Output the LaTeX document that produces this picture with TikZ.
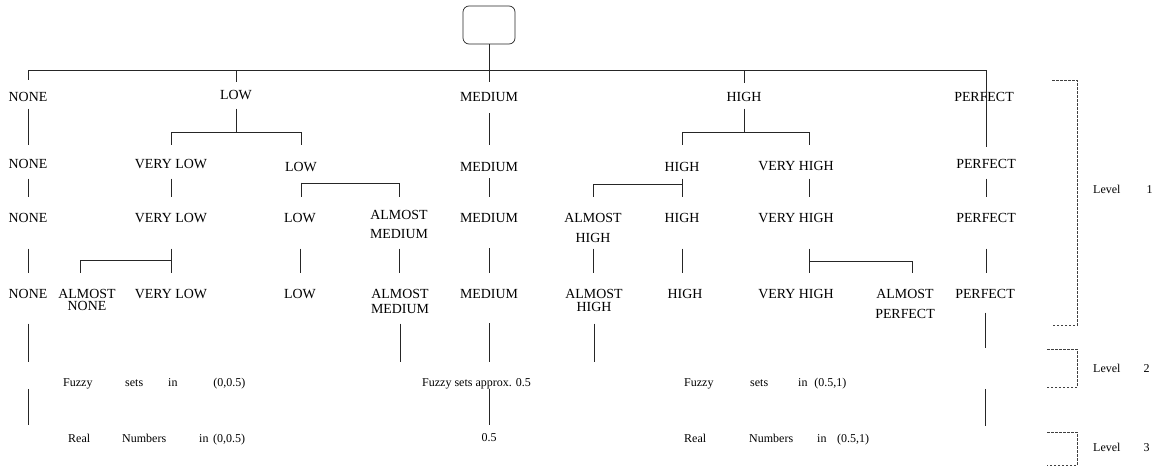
\documentclass[tikz,border=0pt]{standalone}
\usepackage{fontspec}
\setmainfont{Liberation Serif}
\begin{document}
\begin{tikzpicture}[x=1pt,y=-1pt,
  lab/.style={inner sep=0pt, anchor=north, font=\fontsize{13.9}{16}\selectfont},
  labtwo/.style={inner sep=0pt, anchor=north, align=center, font=\fontsize{13.9}{#1}\selectfont},
  small/.style={inner sep=0pt, anchor=base west, font=\fontsize{12}{14}\selectfont},
  conn/.style={draw=black!85, line width=0.7pt},
  lvl/.style={draw=black!75, line width=0.6pt, dash pattern=on 2.5pt off 1.5pt}]
\useasboundingbox (0,0) rectangle (1157,466);

% root
\node[draw=black!85, line width=0.7pt, rounded corners=6pt, minimum width=52pt, minimum height=38pt, inner sep=0pt] (root) at (489,25) {};

% row 1
\node[lab] (none1) at (28,92.4) {NONE};
\node[lab] (low1) at (236,90.4) {LOW};
\node[lab] (med1) at (489,92.4) {MEDIUM};
\node[lab] (high1) at (744,92.4) {HIGH};
\node[lab] (perf1) at (984,92.4) {PERFECT};

% row 2
\node[lab] (none2) at (28,159.4) {NONE};
\node[lab] (vlow2) at (171,159.4) {VERY LOW};
\node[lab] (low2) at (301,162.4) {LOW};
\node[lab] (med2) at (489,162.4) {MEDIUM};
\node[lab] (high2) at (682,162.4) {HIGH};
\node[lab] (vh2) at (796,161.4) {VERY HIGH};
\node[lab] (perf2) at (986,159.4) {PERFECT};

% row 3
\node[lab] (none3) at (28,213.4) {NONE};
\node[lab] (vlow3) at (171,213.4) {VERY LOW};
\node[lab] (low3) at (300,213.4) {LOW};
\node[labtwo=19] (amed3) at (399,210.4) {ALMOST\\MEDIUM};
\node[lab] (med3) at (489,213.4) {MEDIUM};
\node[labtwo=20] (ahigh3) at (593,213.4) {ALMOST\\HIGH};
\node[lab] (high3) at (682,213.4) {HIGH};
\node[lab] (vh3) at (796,213.4) {VERY HIGH};
\node[lab] (perf3) at (986,213.4) {PERFECT};

% row 4
\node[lab] (none4) at (28,289.4) {NONE};
\node[labtwo=12] (anone4) at (87,289.4) {ALMOST\\NONE};
\node[lab] (vlow4) at (171,289.4) {VERY LOW};
\node[lab] (low4) at (300,289.4) {LOW};
\node[labtwo=15] (amed4) at (400,289.4) {ALMOST\\MEDIUM};
\node[lab] (med4) at (489,289.4) {MEDIUM};
\node[labtwo=13] (ahigh4) at (594,289.4) {ALMOST\\HIGH};
\node[lab] (high4) at (685,289.4) {HIGH};
\node[lab] (vh4) at (796,289.4) {VERY HIGH};
\node[labtwo=20] (aperf4) at (905,289.4) {ALMOST\\PERFECT};
\node[lab] (perf4) at (985,289.4) {PERFECT};

% level 2 / 3 texts
\node[small] (fzl) at (63,386) {Fuzzy\hspace{32.7pt}sets\hspace{25pt}in\hspace{35.7pt}(0,0.5)};
\node[small] (fzm) at (422,386) {Fuzzy sets approx. 0.5};
\node[small] (fzr) at (684,386) {Fuzzy\hspace{36.7pt}sets\hspace{30pt}in\hspace{6.7pt}(0.5,1)};
\node[small] (rl) at (68,442) {Real\hspace{32pt}Numbers\hspace{33pt}in\hspace{4.7pt}(0,0.5)};
\node[small, anchor=base] (half) at (489,441) {0.5};
\node[small] (rr) at (684,442) {Real\hspace{43pt}Numbers\hspace{24pt}in\hspace{10.7pt}(0.5,1)};

% level labels
\node[small] (lev1) at (1093,193) {Level\hspace{26pt}1};
\node[small] (lev2) at (1093,372) {Level\hspace{23pt}2};
\node[small] (lev3) at (1093,451) {Level\hspace{23pt}3};

% top connectors
\coordinate (hub) at (489,70);
\draw[conn, shorten >=10.4pt] (root.south) -- (med1.north);
\draw[conn, shorten >=12.4pt] (hub) -| (none1.north);
\draw[conn, shorten >=8.4pt] (hub) -| (low1.north);
\draw[conn, shorten >=9.4pt] (hub) -| (high1.north);
\draw[conn, shorten >=12.4pt] (hub) -| (perf2.north);

% row 1 -> row 2
\draw[conn, shorten <=6.4pt, shorten >=14.4pt] (none1.south) -- (none1.south |- none2.north);
\draw[conn, shorten <=8.4pt, shorten >=14.4pt] (low1.south) -- ++(0,32.4) -| (vlow2.north);
\draw[conn, shorten >=17.4pt] (low1.south) ++(0,32.4) -| (low2.north);
\draw[conn, shorten <=11.4pt, shorten >=17.4pt] (med1.south) -- (med2.north);
\draw[conn, shorten <=6.4pt, shorten >=17.4pt] (high1.south) -- ++(0,30.4) -| (high2.north);
\draw[conn, shorten >=16.4pt] (high1.south) ++(0,30.4) -| ([xshift=13pt]vh2.north);

% row 2 -> row 3
\draw[conn, shorten <=9.4pt, shorten >=16.4pt] (none2.south) -- (none2.south |- none3.north);
\draw[conn, shorten <=9.4pt, shorten >=16.4pt] (vlow2.south) -- (vlow2.south |- vlow3.north);
\draw[conn, shorten <=10.4pt, shorten >=16.4pt] (low2.south) -- (low2.south |- low3.north);
\draw[conn, shorten >=13.4pt] (low2.south) ++(0,11.4) -| (amed3.north);
\draw[conn, shorten <=6.4pt, shorten >=16.4pt] (med2.south) -- (med3.north);
\draw[conn, shorten <=6.4pt, shorten >=16.4pt] (high2.south) -- (high2.south |- high3.north);
\draw[conn, shorten >=16.4pt] (high2.south) ++(0,12.4) -| (ahigh3.north);
\draw[conn, shorten <=7.4pt, shorten >=16.4pt] ([xshift=13pt]vh2.south) -- ([xshift=13pt]vh3.north);
\draw[conn, shorten <=9.4pt, shorten >=16.4pt] (perf2.south) -- (perf3.north);

% row 3 -> row 4
\draw[conn, shorten <=25.4pt, shorten >=16.4pt] (none3.south) -- (none3.south |- none4.north);
\draw[conn, shorten <=25.4pt, shorten >=16.4pt] (vlow3.south) -- (vlow3.south |- vlow4.north);
\draw[conn, shorten >=16.4pt] (vlow3.south) ++(0,37.4) -| ([xshift=-7pt]anone4.north);
\draw[conn, shorten <=25.4pt, shorten >=16.4pt] (low3.south) -- (low3.south |- low4.north);
\draw[conn, shorten <=9.4pt, shorten >=16.4pt] (amed3.south) -- (amed3.south |- amed4.north);
\draw[conn, shorten <=25.4pt, shorten >=16.4pt] (med3.south) -- (med4.north);
\draw[conn, shorten <=5.4pt, shorten >=16.4pt] (ahigh3.south) -- (ahigh3.south |- ahigh4.north);
\draw[conn, shorten <=25.4pt, shorten >=16.4pt] (high3.south) -- (high3.south |- high4.north);
\draw[conn, shorten <=25.4pt, shorten >=16.4pt] ([xshift=13pt]vh3.south) -- ([xshift=13pt]vh4.north);
\draw[conn, shorten >=16.4pt] ([xshift=13pt]vh3.south) ++(0,38.4) -| ([xshift=7pt]aperf4.north);
\draw[conn, shorten <=25.4pt, shorten >=16.4pt] (perf3.south) -- (perf3.south |- perf4.north);

% row 4 -> level 2
\draw[conn, shorten <=24.4pt, shorten >=15.8pt] (none4.south) -- (none4.south |- fzl.north);
\draw[conn, shorten <=9.4pt, shorten >=15.8pt] (amed4.south) -- (amed4.south |- fzm.north);
\draw[conn, shorten <=24.4pt, shorten >=15.8pt] (med4.south) -- (med4.south |- fzm.north);
\draw[conn, shorten <=11.4pt, shorten >=15.8pt] (ahigh4.south) -- (ahigh4.south |- fzm.north);
\draw[conn, shorten <=13.4pt, shorten >=29.8pt] (perf4.south) -- (perf4.south |- fzr.north);

% level 2 -> level 3
\draw[conn, shorten >=8.9pt] (none4.south |- fzl.south) -- (none4.south |- rl.north);
\draw[conn, shorten >=7.9pt] (fzm.south -| med4.south) -- (half.north);
\draw[conn, shorten >=7.9pt] (perf4.south |- fzr.south) -- (perf4.south |- rr.north);

% level brackets
\draw[lvl] (1052,80) -- (1077,80) -- (1077,325) -- (1052,325);
\draw[lvl] (1047,349) -- (1077,349) -- (1077,387) -- (1047,387);
\draw[lvl] (1047,432) -- (1077,432) -- (1077,465) -- (1047,465);
\end{tikzpicture}
\end{document}
